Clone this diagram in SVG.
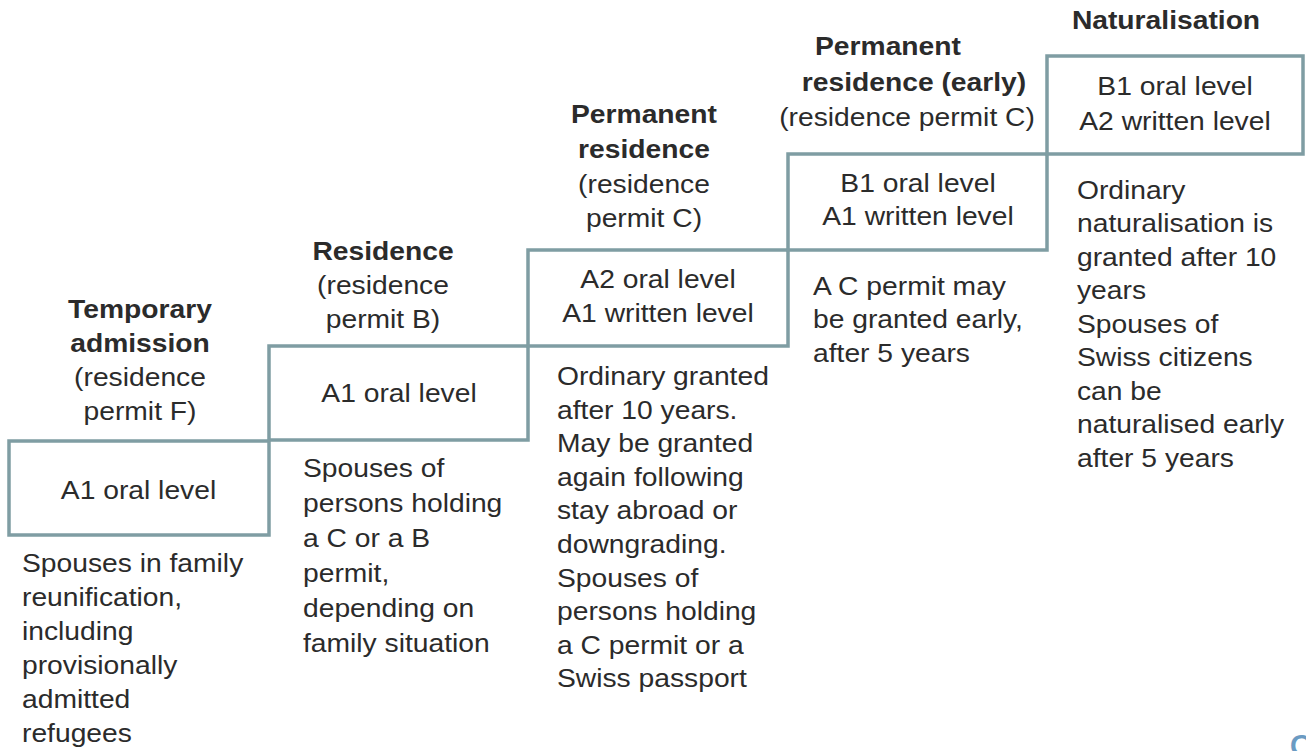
<svg xmlns="http://www.w3.org/2000/svg" width="1306" height="751" viewBox="0 0 1306 751">
<style>
text{font-family:"Liberation Sans",Arial,sans-serif;font-size:25px;fill:#2b2b2b}
.c{text-anchor:middle}
.b{font-weight:bold}
.box{fill:#ffffff;stroke:#7f9da3;stroke-width:3.5}
.pg{fill:#6b9bc3;font-size:46px}
</style>
<rect width="1306" height="751" fill="#ffffff"/>
<g id="connectors"></g>

<g id="step-temporary">
<rect class="box" x="9" y="441" width="260" height="94"/>
<g transform="translate(140,0) scale(1.13,1)">
<text class="c"><tspan class="b" x="0" y="318">Temporary</tspan><tspan class="b" x="0" y="352">admission</tspan><tspan x="0" y="386">(residence</tspan><tspan x="0" y="420">permit F)</tspan></text>
</g>
<g transform="translate(138.5,0) scale(1.13,1)"><text class="c" x="0" y="499">A1 oral level</text></g>
<g transform="translate(22,0) scale(1.13,1)">
<text><tspan x="0" y="572">Spouses in family</tspan><tspan x="0" y="606">reunification,</tspan><tspan x="0" y="640">including</tspan><tspan x="0" y="674">provisionally</tspan><tspan x="0" y="708">admitted</tspan><tspan x="0" y="742">refugees</tspan></text>
</g>
</g>

<g id="step-residence">
<rect class="box" x="269" y="346" width="259" height="94"/>
<g transform="translate(383,0) scale(1.13,1)">
<text class="c"><tspan class="b" x="0" y="260">Residence</tspan><tspan x="0" y="294">(residence</tspan><tspan x="0" y="328">permit B)</tspan></text>
</g>
<g transform="translate(399,0) scale(1.13,1)"><text class="c" x="0" y="402">A1 oral level</text></g>
<g transform="translate(303,0) scale(1.13,1)">
<text><tspan x="0" y="477">Spouses of</tspan><tspan x="0" y="512">persons holding</tspan><tspan x="0" y="547">a C or a B</tspan><tspan x="0" y="582">permit,</tspan><tspan x="0" y="617">depending on</tspan><tspan x="0" y="652">family situation</tspan></text>
</g>
</g>

<g id="step-permanent">
<rect class="box" x="528" y="250" width="260" height="96"/>
<g transform="translate(644,0) scale(1.13,1)">
<text class="c"><tspan class="b" x="0" y="123">Permanent</tspan><tspan class="b" x="0" y="158">residence</tspan><tspan x="0" y="193">(residence</tspan><tspan x="0" y="227">permit C)</tspan></text>
</g>
<g transform="translate(658,0) scale(1.13,1)"><text class="c"><tspan x="0" y="288">A2 oral level</tspan><tspan x="0" y="322">A1 written level</tspan></text></g>
<g transform="translate(557,0) scale(1.13,1)">
<text><tspan x="0" y="385">Ordinary granted</tspan><tspan x="0" y="418.6">after 10 years.</tspan><tspan x="0" y="452.2">May be granted</tspan><tspan x="0" y="485.8">again following</tspan><tspan x="0" y="519.4">stay abroad or</tspan><tspan x="0" y="553">downgrading.</tspan><tspan x="0" y="586.6">Spouses of</tspan><tspan x="0" y="620.2">persons holding</tspan><tspan x="0" y="653.8">a C permit or a</tspan><tspan x="0" y="687.4">Swiss passport</tspan></text>
</g>
</g>

<g id="step-permanent-early">
<rect class="box" x="788" y="154" width="259" height="96"/>
<g transform="translate(888,0) scale(1.13,1)"><text class="c b" x="0" y="55">Permanent</text></g>
<g transform="translate(914,0) scale(1.13,1)"><text class="c b" x="0" y="91">residence (early)</text></g>
<g transform="translate(907,0) scale(1.13,1)"><text class="c" x="0" y="126">(residence permit C)</text></g>
<g transform="translate(918,0) scale(1.13,1)"><text class="c"><tspan x="0" y="192">B1 oral level</tspan><tspan x="0" y="225">A1 written level</tspan></text></g>
<g transform="translate(813,0) scale(1.13,1)">
<text><tspan x="0" y="295">A C permit may</tspan><tspan x="0" y="328.5">be granted early,</tspan><tspan x="0" y="362">after 5 years</tspan></text>
</g>
</g>

<g id="step-naturalisation">
<rect class="box" x="1047" y="56" width="256" height="98"/>
<g transform="translate(1166,0) scale(1.13,1)"><text class="c b" x="0" y="29">Naturalisation</text></g>
<g transform="translate(1175,0) scale(1.13,1)"><text class="c"><tspan x="0" y="95">B1 oral level</tspan><tspan x="0" y="130">A2 written level</tspan></text></g>
<g transform="translate(1077,0) scale(1.13,1)">
<text><tspan x="0" y="199">Ordinary</tspan><tspan x="0" y="232.5">naturalisation is</tspan><tspan x="0" y="266">granted after 10</tspan><tspan x="0" y="299.5">years</tspan><tspan x="0" y="333">Spouses of</tspan><tspan x="0" y="366.5">Swiss citizens</tspan><tspan x="0" y="400">can be</tspan><tspan x="0" y="433.5">naturalised early</tspan><tspan x="0" y="467">after 5 years</tspan></text>
</g>
</g>

<text class="pg" x="1289" y="767">9</text>
</svg>
